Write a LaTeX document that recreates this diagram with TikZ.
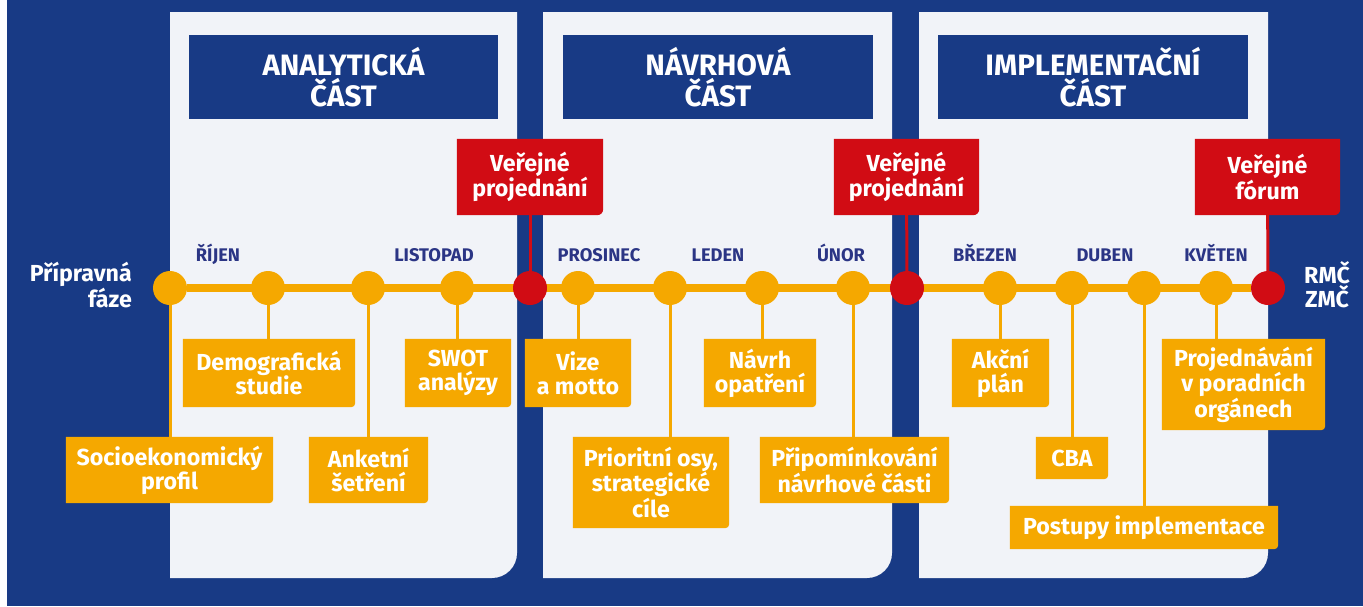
\documentclass[tikz,border=0pt]{standalone}
\usepackage{fontspec}
\setmainfont{Fira Sans}
\usetikzlibrary{positioning,calc,backgrounds}
\definecolor{bgblue}{HTML}{183A85}
\definecolor{panelgray}{HTML}{F1F3F8}
\definecolor{tlorange}{HTML}{F5A800}
\definecolor{tlred}{HTML}{D10C14}
\definecolor{monthblue}{HTML}{2B3585}
\tikzset{
    x=1pt,
    y=-1pt,
    header/.style = {
        fill=bgblue,
        text=white,
        inner sep=0pt,
        align=center,
        font=\fontsize{29.5}{31}\selectfont\bfseries
    },
    task/.style = {
        text=white,
        inner sep=0pt,
        align=center,
        font=\fontsize{23.2}{24}\selectfont\bfseries
    },
    dot/.style = {
        shape=circle,
        fill=tlorange,
        minimum size=34pt,
        inner sep=0pt
    },
    reddot/.style = {dot, fill=tlred},
    month/.style = {
        text=monthblue,
        anchor=base,
        font=\fontsize{18.3}{20}\selectfont\bfseries
    },
    stem/.style = {draw=tlorange, line width=3pt},
    redstem/.style = {draw=tlred, line width=3pt},
}
\begin{document}
\begin{tikzpicture}
    \useasboundingbox (0,0) rectangle (1363,606);

    % headers
    \node[header, minimum width=309pt, minimum height=84pt] (anal) at (343.5,77) {ANALYTICKÁ\\ČÁST};
    \node[header, minimum width=310pt, minimum height=84pt] (navr) at (718,77) {NÁVRHOVÁ\\ČÁST};
    \node[header, minimum width=310pt, minimum height=84pt] (impl) at (1093,77) {IMPLEMENTAČNÍ\\ČÁST};

    % public meetings
    \node[task, minimum width=146pt, minimum height=76pt] (vp1) at (530,177) {Veřejné\\projednání};
    \node[task, minimum width=145pt, minimum height=76pt] (vp2) at (906.5,177) {Veřejné\\projednání};
    \node[task, minimum width=145pt, minimum height=76pt] (vp3) at (1267.5,177) {Veřejné\\fórum};

    % timeline points
    \node[dot] (c1) at (170,288) {};
    \node[dot] (c2) at (268,288) {};
    \node[dot] (c3) at (368,288) {};
    \node[dot] (c4) at (457,288) {};
    \node[reddot] (r1) at (530,288) {};
    \node[dot] (c5) at (578,288) {};
    \node[dot] (c6) at (670,288) {};
    \node[dot] (c7) at (762,288) {};
    \node[dot] (c8) at (853,288) {};
    \node[reddot] (r2) at (907,288) {};
    \node[dot] (c9) at (1000,288) {};
    \node[dot] (c10) at (1072,288) {};
    \node[dot] (c11) at (1144,288) {};
    \node[dot] (c12) at (1216,288) {};
    \node[reddot] (r3) at (1268,288) {};

    % months
    \node[month] (rijen) at (218,261) {ŘÍJEN};
    \node[month] (listopad) at (434,261) {LISTOPAD};
    \node[month] (prosinec) at (599,261) {PROSINEC};
    \node[month] (leden) at (718,261) {LEDEN};
    \node[month] (unor) at (841,261) {ÚNOR};
    \node[month] (brezen) at (985,261) {BŘEZEN};
    \node[month] (duben) at (1105,261) {DUBEN};
    \node[month] (kveten) at (1216,261) {KVĚTEN};

    \node[task, align=right, anchor=east] (prip) at (132,285) {Přípravná\\fáze};
    \node[task] (rmc) at (1327,285) {RMČ\\ZMČ};

    % tasks
    \node[task, minimum width=207pt, minimum height=66pt] (socio) at (169.5,470) {Socioekonomický\\profil};
    \node[task, minimum width=172pt, minimum height=68pt] (demo) at (269,373) {Demografická\\studie};
    \node[task, minimum width=119pt, minimum height=66pt] (anket) at (368.5,470) {Anketní\\šetření};
    \node[task, minimum width=106pt, minimum height=68pt] (swot) at (458,373) {SWOT\\analýzy};
    \node[task, minimum width=106pt, minimum height=68pt] (vize) at (578,373) {Vize\\a motto};
    \node[task, minimum width=156pt, minimum height=91pt] (prior) at (651,482.5) {Prioritní osy,\\strategické\\cíle};
    \node[task, minimum width=112pt, minimum height=68pt] (navrh) at (760,373) {Návrh\\opatření};
    \node[task, minimum width=189pt, minimum height=66pt] (pripom) at (854.5,470) {Připomínkování\\návrhové části};
    \node[task, minimum width=97pt, minimum height=68pt] (akcni) at (1000.5,373) {Akční\\plán};
    \node[task, minimum width=72pt, minimum height=42pt] (cba) at (1072,458) {CBA};
    \node[task, minimum width=268pt, minimum height=43pt] (postupy) at (1144,527.5) {Postupy implementace};
    \node[task, minimum width=163pt, minimum height=91pt] (projed) at (1243.5,384.5) {Projednávání\\v poradních\\orgánech};

    \begin{scope}[on background layer]
        \fill[bgblue] (7,0) rectangle (1363,606);
        \foreach \xa/\xb in {170/517, 543/892, 919/1268}
            \fill[panelgray] (\xa,12) -- (\xb,12) -- (\xb,553) arc[start angle=0, end angle=90, radius=25] -- (\xa,578) -- cycle;
        \foreach \b in {socio,demo,anket,swot,vize,prior,navrh,pripom,akcni,cba,postupy,projed}
            \fill[tlorange] (\b.north west) -- (\b.north east) -- ([yshift=4pt]\b.south east)
                arc[start angle=0, end angle=90, radius=4] -- (\b.south west) -- cycle;
        \foreach \b in {vp1,vp2,vp3}
            \fill[tlred] (\b.north west) -- (\b.north east) -- ([yshift=6pt]\b.south east)
                arc[start angle=0, end angle=90, radius=6] -- (\b.south west) -- cycle;

        \path[draw=tlorange, line width=8pt] (c1) -- (r3);
        \path[redstem] (vp1) -- (r1);
        \path[redstem] (vp2) -- (r2);
        \path[redstem] (vp3) -- (r3);
        \path[stem] (c1) -- (c1 |- socio.north);
        \path[stem] (c2) -- (c2 |- demo.north);
        \path[stem] (c3) -- (c3 |- anket.north);
        \path[stem] (c4) -- (c4 |- swot.north);
        \path[stem] (c5) -- (c5 |- vize.north);
        \path[stem] (c6) -- (c6 |- prior.north);
        \path[stem] (c7) -- (c7 |- navrh.north);
        \path[stem] (c8) -- (c8 |- pripom.north);
        \path[stem] (c9) -- (c9 |- akcni.north);
        \path[stem] (c10) -- (c10 |- cba.north);
        \path[stem] (c11) -- (c11 |- postupy.north);
        \path[stem] (c12) -- (c12 |- projed.north);
    \end{scope}
\end{tikzpicture}
\end{document}
